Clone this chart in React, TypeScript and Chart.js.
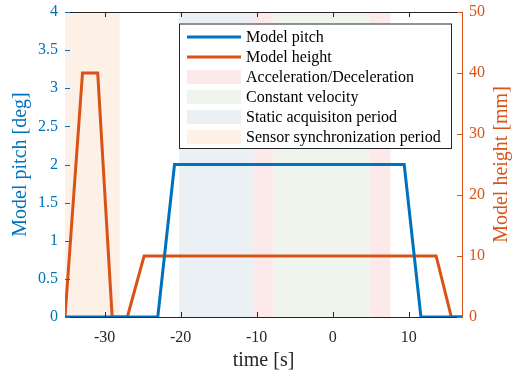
import React, { useEffect, useRef } from 'react';
import { Chart, registerables } from 'chart.js';

Chart.register(...registerables);

// ---- data ----
const pitchTime = [-35.2, -23.0, -20.8, 9.4, 11.6, 17.0];
const pitchDeg = [0, 0, 2, 2, 0, 0];
const heightTime = [-35.2, -32.9, -30.9, -29.0, -27.0, -24.8, 13.6, 15.6, 17.0];
const heightMm = [0, 40, 40, 0, 0, 10, 10, 0, 0];

const xTicks = [-30, -20, -10, 0, 10];
const pitchTicks = [0, 0.5, 1, 1.5, 2, 2.5, 3, 3.5, 4];
const heightTicks = [0, 10, 20, 30, 40, 50];

const periodLabels = [
  'Acceleration/Deceleration',
  'Constant velocity',
  'Static acquisiton period',
  'Sensor synchronization period',
];
const periodStarts = [[-10.4, 4.9], [-7.8], [-20.2], [-35.2]];
const periodEnds = [[-7.8, 7.6], [4.9], [-10.4], [-28.0]];

const seriesLabels = ['Model pitch', 'Model height'];
const axisTitles = ['time [s]', 'Model pitch [deg]', 'Model height [mm]'];

// ---- style ----
const BLUE = '#0072BD';
const ORANGE = '#D95319';
const DARK = '#262626';
const periodColors = ['#FCEAEA', '#EFF5EC', '#EBF0F5', '#FDF1E7'];
const FONT = "'Liberation Serif', 'Times New Roman', serif";

export default function App() {
  const ref = useRef<HTMLCanvasElement | null>(null);

  useEffect(() => {
    const canvas = ref.current;
    if (!canvas) return;

    const periodsPlugin = {
      id: 'periods',
      beforeDatasetsDraw(chart: any) {
        const { ctx, chartArea, scales } = chart;
        const xs = scales.x;
        ctx.save();
        ctx.beginPath();
        ctx.rect(chartArea.left, chartArea.top, chartArea.right - chartArea.left, chartArea.bottom - chartArea.top);
        ctx.clip();
        periodStarts.forEach((starts, i) => {
          ctx.fillStyle = periodColors[i];
          starts.forEach((s, j) => {
            const x0 = xs.getPixelForValue(s);
            const x1 = xs.getPixelForValue(periodEnds[i][j]);
            ctx.fillRect(x0, chartArea.top, x1 - x0, chartArea.bottom - chartArea.top);
          });
        });
        ctx.restore();
      },
    };

    const decorPlugin = {
      id: 'decor',
      afterDraw(chart: any) {
        const { ctx, chartArea, scales } = chart;
        const { left, right, top, bottom } = chartArea;
        const tl = 5;
        ctx.save();
        ctx.lineWidth = 1;
        // top border
        ctx.strokeStyle = DARK;
        ctx.beginPath();
        ctx.moveTo(left, top + 0.5);
        ctx.lineTo(right, top + 0.5);
        ctx.stroke();
        // x ticks (bottom & top)
        scales.x.ticks.forEach((t: any) => {
          const px = Math.round(scales.x.getPixelForValue(t.value)) + 0.5;
          ctx.beginPath();
          ctx.moveTo(px, bottom);
          ctx.lineTo(px, bottom - tl);
          ctx.moveTo(px, top);
          ctx.lineTo(px, top + tl);
          ctx.stroke();
        });
        // left ticks
        ctx.strokeStyle = BLUE;
        scales.y.ticks.forEach((t: any) => {
          const py = Math.round(scales.y.getPixelForValue(t.value)) + 0.5;
          ctx.beginPath();
          ctx.moveTo(left, py);
          ctx.lineTo(left + tl, py);
          ctx.stroke();
        });
        // right ticks
        ctx.strokeStyle = ORANGE;
        scales.y1.ticks.forEach((t: any) => {
          const py = Math.round(scales.y1.getPixelForValue(t.value)) + 0.5;
          ctx.beginPath();
          ctx.moveTo(right, py);
          ctx.lineTo(right - tl, py);
          ctx.stroke();
        });
        // right axis title, reading bottom-to-top
        ctx.fillStyle = ORANGE;
        ctx.font = `20px ${FONT}`;
        ctx.textAlign = 'center';
        ctx.textBaseline = 'middle';
        ctx.translate(502, (top + bottom) / 2);
        ctx.rotate(-Math.PI / 2);
        ctx.fillText(axisTitles[2], 0, 0);
        ctx.restore();

        // legend
        const bx = 179, by = 23.5, bw = 272, bh = 124.5;
        ctx.save();
        ctx.fillStyle = '#ffffff';
        ctx.fillRect(bx, by, bw, bh);
        ctx.strokeStyle = DARK;
        ctx.lineWidth = 1;
        ctx.strokeRect(bx + 0.5, by + 0.5, bw, bh);
        ctx.font = `16px ${FONT}`;
        ctx.textAlign = 'left';
        ctx.textBaseline = 'middle';
        const sx0 = 187, sx1 = 241, tx = 246;
        const rowY = (i: number) => by + 13.5 + i * 20;
        const ds = chart.data.datasets;
        ds.forEach((d: any, i: number) => {
          const y = rowY(i);
          ctx.strokeStyle = d.borderColor;
          ctx.lineWidth = 3;
          ctx.beginPath();
          ctx.moveTo(sx0, y);
          ctx.lineTo(sx1, y);
          ctx.stroke();
          ctx.fillStyle = '#000000';
          ctx.fillText(d.label, tx, y + 1);
        });
        periodLabels.forEach((lab, k) => {
          const y = rowY(ds.length + k);
          ctx.fillStyle = periodColors[k];
          ctx.fillRect(sx0, y - 7, sx1 - sx0, 14);
          ctx.fillStyle = '#000000';
          ctx.fillText(lab, tx, y + 1);
        });
        ctx.restore();
      },
    };

    const chart = new Chart(canvas, {
      type: 'line',
      data: {
        datasets: [
          {
            label: seriesLabels[0],
            data: pitchTime.map((t, i) => ({ x: t, y: pitchDeg[i] })),
            borderColor: BLUE,
            backgroundColor: BLUE,
            borderWidth: 3,
            pointRadius: 0,
            tension: 0,
            yAxisID: 'y',
          },
          {
            label: seriesLabels[1],
            data: heightTime.map((t, i) => ({ x: t, y: heightMm[i] })),
            borderColor: ORANGE,
            backgroundColor: ORANGE,
            borderWidth: 3,
            pointRadius: 0,
            tension: 0,
            yAxisID: 'y1',
          },
        ],
      },
      options: {
        responsive: false,
        animation: false,
        events: [],
        layout: { padding: { top: 12, left: 0, right: 0, bottom: 0 } },
        plugins: {
          legend: { display: false },
          tooltip: { enabled: false },
        },
        scales: {
          x: {
            type: 'linear',
            min: -35.2,
            max: 17,
            afterBuildTicks: (s: any) => {
              s.ticks = xTicks.map((v) => ({ value: v }));
            },
            afterFit: (s: any) => {
              s.height = 58;
              s.paddingLeft = 0;
              s.paddingRight = 0;
            },
            grid: { display: false, drawTicks: false },
            border: { display: true, color: DARK, width: 1 },
            ticks: {
              color: DARK,
              font: { family: FONT, size: 16 },
              padding: 11,
              maxRotation: 0,
              callback: (v: any) => String(v),
            },
            title: {
              display: true,
              text: axisTitles[0],
              color: DARK,
              font: { family: FONT, size: 20 },
              padding: { top: 0, bottom: 2 },
            },
          },
          y: {
            type: 'linear',
            position: 'left',
            min: 0,
            max: 4,
            afterBuildTicks: (s: any) => {
              s.ticks = pitchTicks.map((v) => ({ value: v }));
            },
            afterFit: (s: any) => {
              s.width = 65;
              s.paddingTop = 0;
              s.paddingBottom = 0;
            },
            grid: { display: false, drawTicks: false },
            border: { display: true, color: BLUE, width: 1 },
            ticks: {
              color: BLUE,
              font: { family: FONT, size: 16 },
              padding: 7,
              callback: (v: any) => String(v),
            },
            title: {
              display: true,
              text: axisTitles[1],
              color: BLUE,
              font: { family: FONT, size: 20 },
              padding: { top: 9, bottom: 0 },
            },
          },
          y1: {
            type: 'linear',
            position: 'right',
            min: 0,
            max: 50,
            afterBuildTicks: (s: any) => {
              s.ticks = heightTicks.map((v) => ({ value: v }));
            },
            afterFit: (s: any) => {
              s.width = 52;
              s.paddingTop = 0;
              s.paddingBottom = 0;
            },
            grid: { display: false, drawTicks: false },
            border: { display: true, color: ORANGE, width: 1 },
            ticks: {
              color: ORANGE,
              font: { family: FONT, size: 16 },
              padding: 7,
              callback: (v: any) => String(v),
            },
          },
        },
      },
      plugins: [periodsPlugin, decorPlugin],
    } as any);

    return () => chart.destroy();
  }, []);

  return (
    <div style={{ position: 'fixed', left: 0, top: 0, width: 514, height: 375, background: '#ffffff' }}>
      <canvas ref={ref} width={514} height={375} style={{ display: 'block' }} />
    </div>
  );
}
